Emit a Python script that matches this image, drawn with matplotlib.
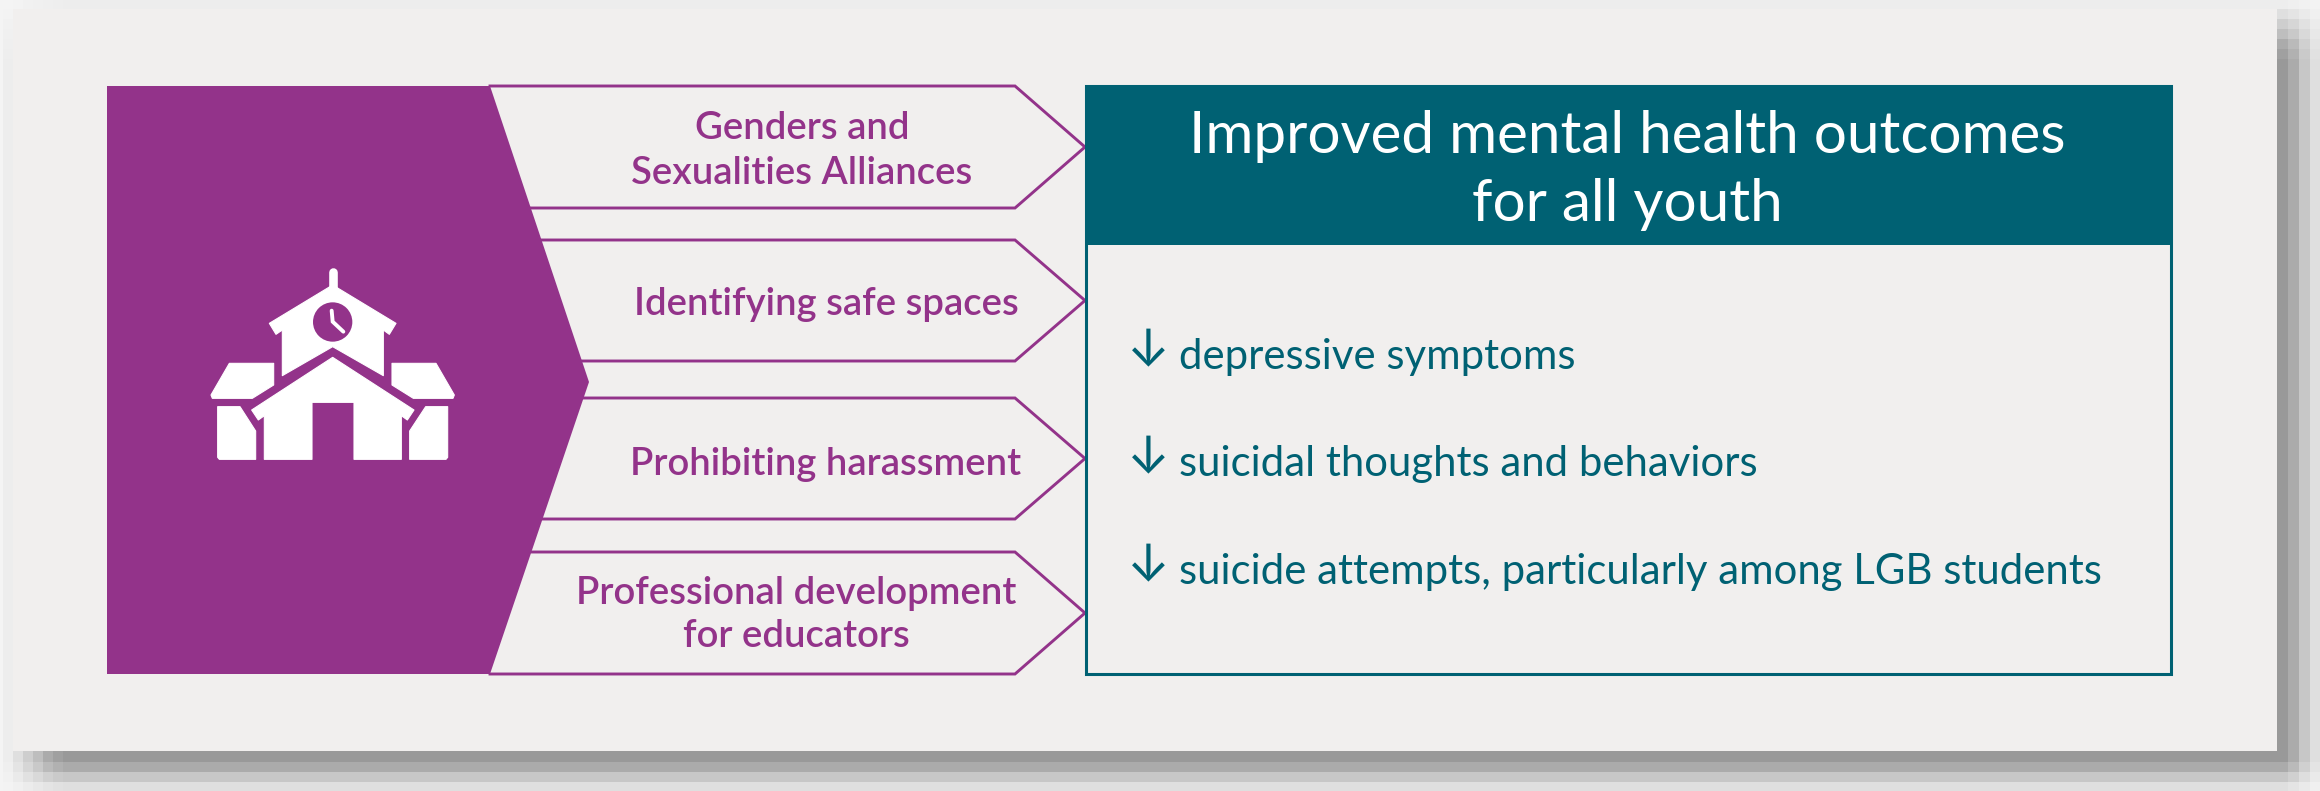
# School policies diagram, everything in reference pixel coordinates

import numpy as np
import matplotlib.pyplot as plt
from matplotlib.patches import Polygon, Rectangle, Circle

PURPLE = '#93338a'
TEAL = '#006173'
PAPER = '#f1efee'
BACK = '#f4f4f4'
FONT = ['Lato', 'DejaVu Sans']

# texts
title_lines = ['Improved mental health outcomes', 'for all youth']
title_y = [153, 221]
labels = [['Genders and', 'Sexualities Alliances'],
          ['Identifying safe spaces'],
          ['Prohibiting harassment'],
          ['Professional development', 'for educators']]
label_x = [802, 826, 826, 796]
label_y = [[139, 184], [315], [475], [604, 647]]
outcomes = ['depressive symptoms',
            'suicidal thoughts and behaviors',
            'suicide attempts, particularly among LGB students']
outcome_y = [369, 476, 584]

# chevrons, top and bottom of each, left ends follow the purple shape
chevron_top = [86, 240, 398, 552]
chevron_bottom = [208, 361, 519, 674]
chevron_left_top = [490, 541, 584, 532]
chevron_left_bottom = [531, 582, 543, 490]
shoulder_x = 1015
tip_x = 1085

# shadow steps
shadow_steps = [.08, .23, .42, .6, .8, .92, 1, 1, 1, .8, .5, .23]

# school icon outline, in crop coordinates
roof = [(458, 135), (648, 250), (628, 283), (610, 270), (610, 407), (458, 320),
        (307, 407), (307, 270), (288, 283), (268, 250)]
main = [(458, 352), (702, 510), (682, 540), (664, 527), (664, 658), (522, 658),
        (522, 487), (396, 487), (396, 658), (253, 658), (253, 527), (235, 540),
        (215, 510)]
wing_left = [(148, 370), (281, 370), (281, 435), (217, 475), (97, 475), (93, 465)]
wing_right = [(636, 370), (768, 370), (823, 465), (819, 475), (700, 475), (636, 435)]
base_left = [(113, 500), (180, 500), (227, 573), (227, 658), (118, 658), (113, 652)]
base_right = [(803, 500), (737, 500), (689, 573), (689, 658), (798, 658), (803, 652)]
clock_hand = [(455, 212), (458, 245), (490, 275)]


def icon_xy(points):
    return [(180 + x / 3, 240 + y / 3) for x, y in points]


fig = plt.figure(figsize=(23.2, 7.91), dpi=100)
ax = fig.add_axes([0, 0, 1, 1])
ax.set_xlim(0, 2320)
ax.set_ylim(791, 0)
ax.axis('off')

# blocky soft shadow behind the paper
x_edges = [3, 13, 23, 33, 43, 53, 63, 73, 2277, 2288, 2299, 2310, 2320]
y_edges = [-1, 9, 19, 29, 39, 49, 59, 69, 751, 762, 772, 782, 791]
fall = np.array(shadow_steps)
shade = 244 - 91 * np.outer(fall, fall)
ax.add_patch(Rectangle((0, 0), 2320, 791, fc=BACK, ec='none', zorder=0))
ax.pcolormesh(x_edges, y_edges, shade, cmap='gray', vmin=0, vmax=255, zorder=1)

ax.add_patch(Rectangle((13, 9), 2264, 742, fc=PAPER, ec='none', zorder=2))

# purple block
ax.add_patch(Polygon([(107, 86), (490, 86), (589, 382), (490, 674), (107, 674)],
                     fc=PURPLE, ec='none', zorder=3))

# chevrons
for i in range(4):
    top = chevron_top[i]
    bottom = chevron_bottom[i]
    xs = [chevron_left_top[i], shoulder_x, tip_x, shoulder_x, chevron_left_bottom[i]]
    ys = [top, top, (top + bottom) / 2, bottom, bottom]
    ax.plot(xs, ys, color=PURPLE, lw=2.1, solid_joinstyle='miter', zorder=3)

    for line, y in zip(labels[i], label_y[i]):
        ax.text(label_x[i], y, line, color=PURPLE, fontsize=27.5, family=FONT,
                fontweight='semibold', ha='center', va='baseline', zorder=5)

# outcome box
ax.add_patch(Rectangle((1086, 86), 1085, 588, fc='none', ec=TEAL, lw=2.2, zorder=4))
ax.add_patch(Rectangle((1085, 86), 1087, 159, fc=TEAL, ec='none', zorder=4))
for line, y in zip(title_lines, title_y):
    ax.text(1627, y, line, color='white', fontsize=42, family=FONT,
            ha='center', va='baseline', zorder=5)

for line, y in zip(outcomes, outcome_y):
    ax.text(1148, y - 3, '\u2193', color=TEAL, fontsize=37,
            family=['Inter', 'DejaVu Sans'],
            ha='center', va='baseline', zorder=5)
    ax.text(1179, y, line, color=TEAL, fontsize=30.2, family=FONT,
            ha='left', va='baseline', zorder=5)

# school icon
for shape in [roof, main, wing_left, wing_right, base_left, base_right]:
    ax.add_patch(Polygon(icon_xy(shape), fc='white', ec='white', lw=0.8,
                         joinstyle='round', zorder=6))
spire = icon_xy([(458, 97), (458, 145)])
ax.plot(*zip(*spire), color='white', lw=6.2, solid_capstyle='round', zorder=6)
ax.add_patch(Circle(icon_xy([(458, 246)])[0], 59 / 3, fc=PURPLE, ec='none', zorder=7))
ax.plot(*zip(*icon_xy(clock_hand)), color='white', lw=2.8, solid_capstyle='round',
        solid_joinstyle='miter', zorder=8)

fig.savefig('out.png', dpi=100)
